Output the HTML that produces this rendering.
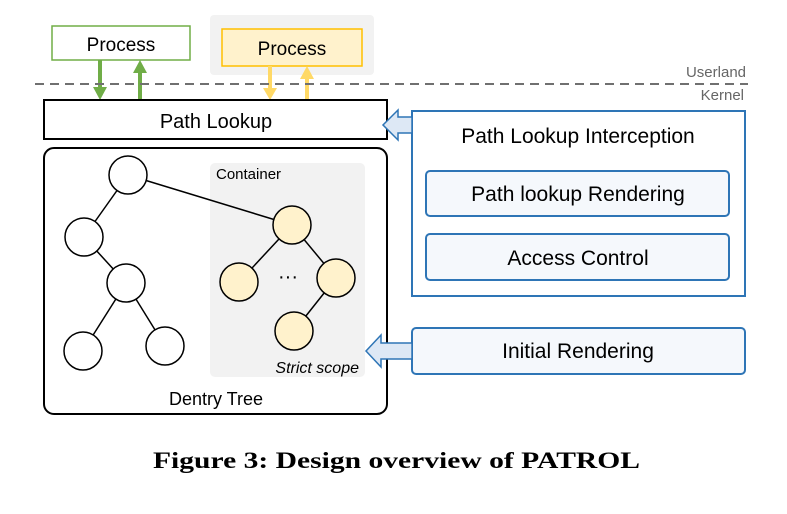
<!DOCTYPE html>
<html><head><meta charset="utf-8"><style>
html,body{margin:0;padding:0;background:#fff;}
svg{display:block;}
text{font-family:"Liberation Sans","DejaVu Sans",sans-serif;}
</style></head><body>
<svg width="787" height="514" viewBox="0 0 787 514" xmlns="http://www.w3.org/2000/svg">
<!-- userland processes -->
<rect x="52" y="26" width="138" height="34" fill="#fff" stroke="#70ad47" stroke-width="1.5"/>
<text x="121" y="51" font-size="19" text-anchor="middle">Process</text>
<rect x="210" y="15" width="164" height="60" rx="4" fill="#f2f2f2"/>
<rect x="222" y="29" width="140" height="37" fill="#fff2cc" stroke="#ffc000" stroke-width="1.5"/>
<text x="292" y="55" font-size="19" text-anchor="middle">Process</text>
<!-- arrows green -->
<line x1="100" y1="60" x2="100" y2="88" stroke="#70ad47" stroke-width="4"/>
<polygon points="93,87 107,87 100,100" fill="#70ad47"/>
<line x1="140" y1="100" x2="140" y2="72" stroke="#70ad47" stroke-width="4"/>
<polygon points="133,73 147,73 140,60" fill="#70ad47"/>
<!-- arrows yellow -->
<line x1="270" y1="66" x2="270" y2="89" stroke="#ffd966" stroke-width="4"/>
<polygon points="263,88 277,88 270,100" fill="#ffd966"/>
<line x1="307" y1="100" x2="307" y2="78" stroke="#ffd966" stroke-width="4"/>
<polygon points="300,79 314,79 307,66" fill="#ffd966"/>
<!-- dashed line -->
<line x1="35" y1="84" x2="748" y2="84" stroke="#707070" stroke-width="2" stroke-dasharray="9,6"/>
<text x="746" y="77" font-size="15" fill="#666" text-anchor="end">Userland</text>
<text x="744" y="100" font-size="15" fill="#666" text-anchor="end">Kernel</text>
<!-- path lookup -->
<rect x="44" y="100" width="343" height="39" fill="#fff" stroke="#000" stroke-width="2"/>
<text x="216" y="128" font-size="20" text-anchor="middle">Path Lookup</text>
<!-- dentry tree -->
<rect x="44" y="148" width="343" height="266" rx="10" fill="#fff" stroke="#000" stroke-width="2"/>
<rect x="210" y="163" width="155" height="214" rx="5" fill="#f2f2f2"/>
<text x="216" y="179" font-size="15">Container</text>
<g stroke="#000" stroke-width="1.5">
<line x1="128" y1="175" x2="292" y2="225"/>
<line x1="128" y1="175" x2="84" y2="237"/>
<line x1="84" y1="237" x2="126" y2="283"/>
<line x1="126" y1="283" x2="83" y2="351"/>
<line x1="126" y1="283" x2="165" y2="346"/>
<line x1="292" y1="225" x2="239" y2="282"/>
<line x1="292" y1="225" x2="336" y2="278"/>
<line x1="336" y1="278" x2="294" y2="331"/>
</g>
<g stroke="#000" stroke-width="1.5" fill="#fff">
<circle cx="128" cy="175" r="19"/>
<circle cx="84" cy="237" r="19"/>
<circle cx="126" cy="283" r="19"/>
<circle cx="83" cy="351" r="19"/>
<circle cx="165" cy="346" r="19"/>
</g>
<g stroke="#000" stroke-width="1.5" fill="#fff2cc">
<circle cx="292" cy="225" r="19"/>
<circle cx="239" cy="282" r="19"/>
<circle cx="336" cy="278" r="19"/>
<circle cx="294" cy="331" r="19"/>
</g>
<text x="288" y="283" font-size="20" text-anchor="middle">···</text>
<text x="359" y="373" font-size="16" font-style="italic" text-anchor="end">Strict scope</text>
<text x="216" y="405" font-size="18" text-anchor="middle">Dentry Tree</text>
<!-- interception -->
<rect x="412" y="111" width="333" height="185" fill="#fff" stroke="#2e75b6" stroke-width="2"/>
<text x="578" y="143" font-size="21" text-anchor="middle">Path Lookup Interception</text>
<rect x="426" y="171" width="303" height="45" rx="4" fill="#f5f8fc" stroke="#2e75b6" stroke-width="2"/>
<text x="578" y="201" font-size="21" text-anchor="middle">Path lookup Rendering</text>
<rect x="426" y="234" width="303" height="46" rx="4" fill="#f5f8fc" stroke="#2e75b6" stroke-width="2"/>
<text x="578" y="265" font-size="21" text-anchor="middle">Access Control</text>
<polygon points="412,117 398,117 398,110 383,125 398,140 398,133 412,133" fill="#dde8f5" stroke="#2e75b6" stroke-width="1.5"/>
<rect x="412" y="328" width="333" height="46" rx="4" fill="#f5f8fc" stroke="#2e75b6" stroke-width="2"/>
<text x="578" y="358" font-size="21" text-anchor="middle">Initial Rendering</text>
<polygon points="412,343 381,343 381,335 366,351 381,367 381,359 412,359" fill="#dde8f5" stroke="#2e75b6" stroke-width="1.5"/>
<!-- caption -->
<text x="153" y="468" font-size="23" font-weight="bold" textLength="487" lengthAdjust="spacingAndGlyphs" style="font-family:'Liberation Serif',serif">Figure 3: Design overview of PATROL</text>
</svg>
</body></html>
